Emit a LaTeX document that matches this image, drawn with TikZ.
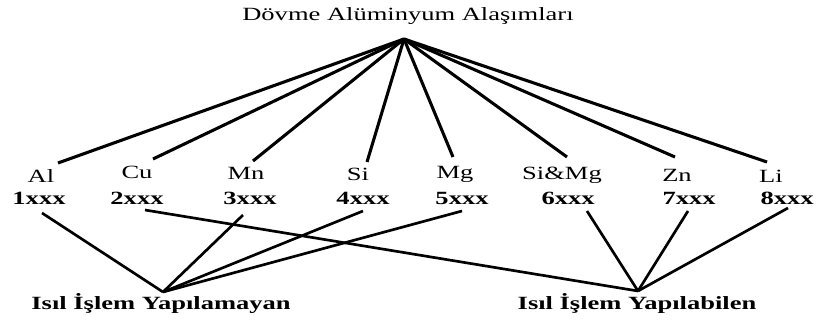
\documentclass[tikz,border=0pt]{standalone}
\usepackage{fontspec}
\setmainfont[FakeStretch=1.42]{Liberation Serif}
\begin{document}
\begin{tikzpicture}[x=0.75pt,y=-0.75pt,
  lbl/.style={inner sep=0pt, anchor=base, font=\fontsize{14}{16}\selectfont},
  num/.style={inner sep=0pt, anchor=base, font=\fontsize{14}{16}\selectfont\bfseries},
  toplink/.style={line width=2.3pt, black},
  botlink/.style={line width=2pt, black}]
\useasboundingbox (0,0) rectangle (817,320);

% title
\node[lbl] (title) at (408,21) {Dövme Alüminyum Alaşımları};
\coordinate (apex) at (404,39);

% element labels
\node[lbl] (al)   at (41,183)  {Al};
\node[lbl] (cu)   at (137,179) {Cu};
\node[lbl] (mn)   at (246,180) {Mn};
\node[lbl] (si)   at (358,181) {Si};
\node[lbl] (mg)   at (455,179) {Mg};
\node[lbl] (simg) at (562,180) {Si\&Mg};
\node[lbl] (zn)   at (677,182) {Zn};
\node[lbl] (li)   at (771,183) {Li};

\node[num] (n1) at (39,205)  {1xxx};
\node[num] (n2) at (137,205) {2xxx};
\node[num] (n3) at (250,205) {3xxx};
\node[num] (n4) at (363,205) {4xxx};
\node[num] (n5) at (462,205) {5xxx};
\node[num] (n6) at (568,205) {6xxx};
\node[num] (n7) at (689,205) {7xxx};
\node[num] (n8) at (787,205) {8xxx};

% bottom labels
\node[num] (nonheat) at (161,309) {Isıl İşlem Yapılamayan};
\node[num] (heat)    at (637,309) {Isıl İşlem Yapılabilen};
\coordinate (lapex) at (163,292);
\coordinate (rapex) at (638,291);

% top connector ends
\coordinate (tal)   at (58,163);
\coordinate (tcu)   at (153,159);
\coordinate (tmn)   at (253,161);
\coordinate (tsi)   at (367,162);
\coordinate (tmg)   at (453,157);
\coordinate (tsimg) at (567,157);
\coordinate (tzn)   at (675,157);
\coordinate (tli)   at (767,162);

% bottom connector starts
\coordinate (b1) at (42,213);
\coordinate (b2) at (145,210);
\coordinate (b3) at (243,215);
\coordinate (b4) at (363,211);
\coordinate (b5) at (462,211);
\coordinate (b6) at (587,211);
\coordinate (b7) at (688,211);
\coordinate (b8) at (788,208);

\foreach \e in {tal,tcu,tmn,tsi,tmg,tsimg,tzn,tli}
  \draw[toplink] (apex) -- (\e);

\foreach \b in {b1,b3,b4,b5}
  \draw[botlink] (\b) -- (lapex);
\foreach \b in {b2,b6,b7,b8}
  \draw[botlink] (\b) -- (rapex);
\end{tikzpicture}
\end{document}
